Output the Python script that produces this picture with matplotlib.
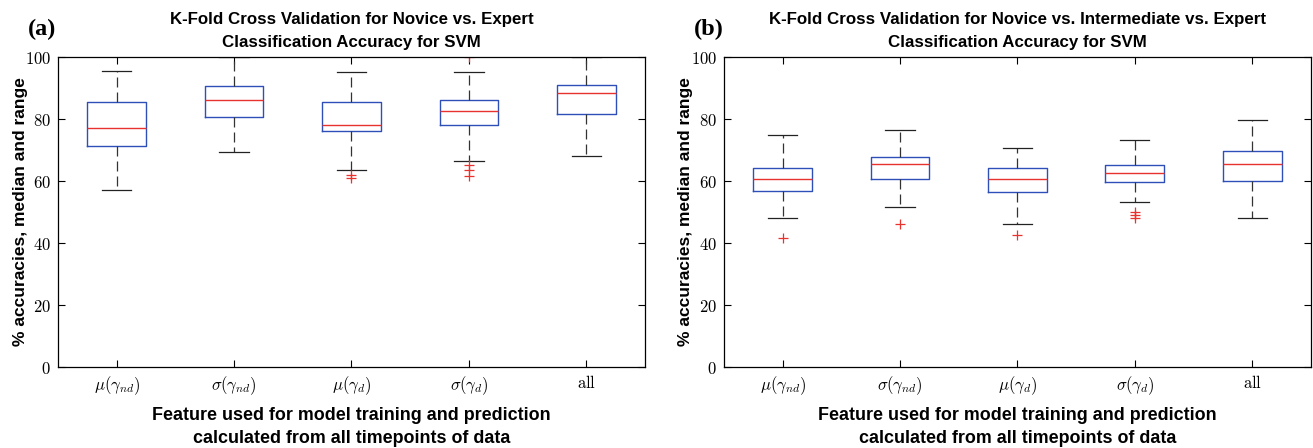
import numpy as np
import matplotlib.pyplot as plt

plt.rcParams['mathtext.fontset'] = 'cm'

labels = [r'$\mu(\gamma_{nd})$', r'$\sigma(\gamma_{nd})$', r'$\mu(\gamma_d)$',
          r'$\sigma(\gamma_d)$', r'$\mathrm{all}$']
yticks = [0, 20, 40, 60, 80, 100]

# panel (a): novice vs expert
a_whislo = [57.0, 69.4, 63.4, 66.6, 68.2]
a_q1 = [71.3, 80.8, 76.0, 78.1, 81.7]
a_med = [77.1, 86.2, 78.2, 82.5, 88.5]
a_q3 = [85.5, 90.6, 85.5, 86.1, 91.1]
a_whishi = [95.5, 100.0, 95.3, 95.3, 100.0]
a_fliers = [[], [], [61.8, 61.1], [100.0, 65.1, 63.4, 61.6], []]

# panel (b): novice vs intermediate vs expert
b_whislo = [48.2, 51.6, 46.2, 53.3, 48.2]
b_q1 = [56.8, 60.5, 56.5, 59.8, 60.1]
b_med = [60.5, 65.4, 60.5, 62.6, 65.4]
b_q3 = [64.1, 67.6, 64.1, 65.3, 69.8]
b_whishi = [74.8, 76.5, 70.8, 73.1, 79.8]
b_fliers = [[41.7], [46.2], [42.7], [50.0, 48.9, 48.1], []]

titles = ['K-Fold Cross Validation for Novice vs. Expert\nClassification Accuracy for SVM',
          'K-Fold Cross Validation for Novice vs. Intermediate vs. Expert\nClassification Accuracy for SVM']

BLUE = '#2f4fb8'
RED = '#e8322e'


def make_stats(whislo, q1, med, q3, whishi, fliers):
    stats = []
    for i in range(len(med)):
        stats.append(dict(whislo=whislo[i], q1=q1[i], med=med[i], q3=q3[i],
                          whishi=whishi[i], fliers=fliers[i]))
    return stats


def draw_panel(ax, stats, title, tag):
    ax.bxp(stats, positions=range(1, 6), widths=0.5, showfliers=True,
           boxprops=dict(color=BLUE, linewidth=1.0),
           medianprops=dict(color=RED, linewidth=1.0),
           whiskerprops=dict(color='#333333', linewidth=0.9, linestyle=(0, (8, 4))),
           capprops=dict(color='#222222', linewidth=0.9),
           flierprops=dict(marker='+', markeredgecolor=RED, markersize=7,
                           markeredgewidth=0.9, linestyle='none'))
    ax.set_xlim(0.5, 5.5)
    ax.set_ylim(0, 100)
    ax.set_yticks(yticks)
    ax.set_yticklabels([r'$%d$' % v for v in yticks], fontsize=12)
    ax.set_xticks(range(1, 6))
    ax.set_xticklabels(labels, fontsize=12)
    ax.tick_params(direction='in', length=5, width=0.8, top=True, right=True, pad=5)
    for s in ax.spines.values():
        s.set_linewidth(0.9)
    ax.set_title(title, fontsize=12.2, fontweight='bold', family='Liberation Sans',
                 pad=7, linespacing=1.7)
    ax.set_ylabel('% accuracies, median and range', fontsize=12.5, fontweight='bold',
                  family='Liberation Sans')
    ax.yaxis.set_label_coords(-0.052, 0.5)
    ax.set_xlabel('Feature used for model training and prediction\ncalculated from all timepoints of data',
                  fontsize=12.9, fontweight='bold', family='Liberation Sans', linespacing=1.5)
    ax.xaxis.set_label_coords(0.5, -0.128)
    ax.text(-0.051, 1.09, tag, transform=ax.transAxes, fontsize=17.5, fontweight='bold',
            family='Liberation Serif', ha='left', va='center')


fig = plt.figure(figsize=(13.13, 4.48), dpi=100)
ax1 = fig.add_axes([0.0442, 0.1808, 0.447, 0.692])
ax2 = fig.add_axes([0.5514, 0.1808, 0.447, 0.692])

draw_panel(ax1, make_stats(a_whislo, a_q1, a_med, a_q3, a_whishi, a_fliers), titles[0], '(a)')
draw_panel(ax2, make_stats(b_whislo, b_q1, b_med, b_q3, b_whishi, b_fliers), titles[1], '(b)')

fig.savefig('out.png', dpi=100)
